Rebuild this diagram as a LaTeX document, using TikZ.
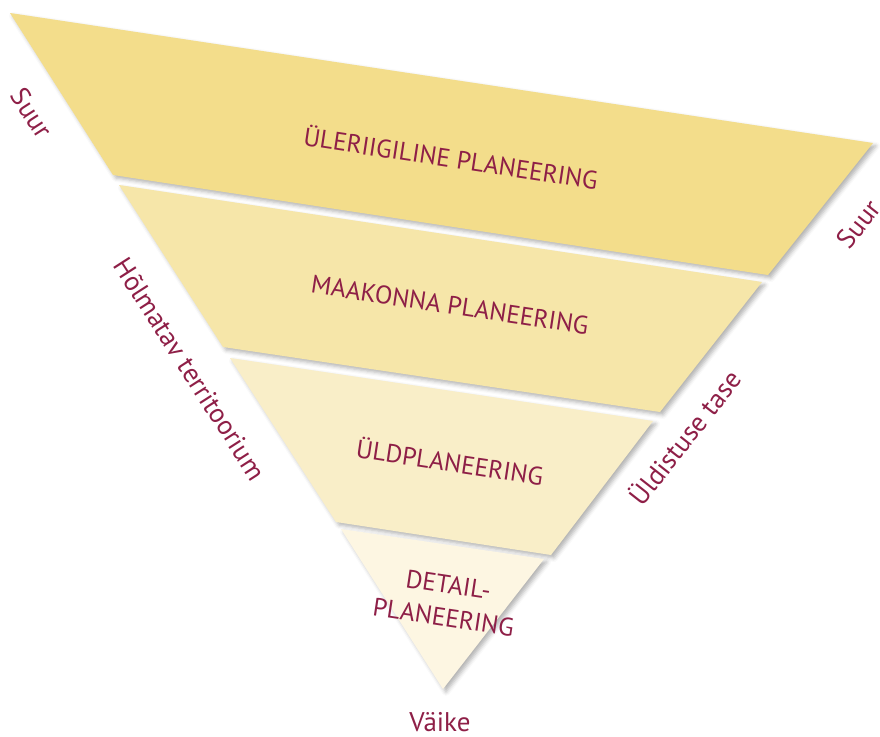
\documentclass[tikz,border=0pt]{standalone}
\usepackage{fontspec}
\setmainfont{PT Sans}
\usetikzlibrary{shadows.blur}
\definecolor{bandA}{HTML}{F3DD8B}
\definecolor{bandB}{HTML}{F6E6A9}
\definecolor{bandC}{HTML}{F9EEC8}
\definecolor{bandD}{HTML}{FDF6E2}
\definecolor{txt}{HTML}{8E1F47}
\tikzset{
  band/.style={blur shadow={shadow xshift=3pt,shadow yshift=-3pt,shadow blur radius=4pt,shadow opacity=30}},
  bandlabel/.style={text=txt,font=\fontsize{25.5}{33}\selectfont,rotate=-8.6,align=center,inner sep=0pt},
  sidelabel/.style={text=txt,font=\fontsize{27}{32}\selectfont,inner sep=0pt},
}
\begin{document}
\begin{tikzpicture}[x=1pt,y=-1pt]
\useasboundingbox (0,0) rectangle (880,736);
% band 1
\coordinate (a1) at (10,13);  \coordinate (b1) at (873,143);
\coordinate (c1) at (768,275); \coordinate (d1) at (113,175);
% band 2
\coordinate (a2) at (119,185); \coordinate (b2) at (762,282);
\coordinate (c2) at (660,412); \coordinate (d2) at (223,347);
% band 3
\coordinate (a3) at (230,358); \coordinate (b3) at (653,421);
\coordinate (c3) at (551,555); \coordinate (d3) at (336,522);
% band 4
\coordinate (a4) at (341,529); \coordinate (b4) at (544,559);
\coordinate (c4) at (443,689);

\path[band,fill=bandA] (a1) -- (b1) -- (c1) -- (d1) -- cycle;
\path[band,fill=bandB] (a2) -- (b2) -- (c2) -- (d2) -- cycle;
\path[band,fill=bandC] (a3) -- (b3) -- (c3) -- (d3) -- cycle;
\path[band,fill=bandD] (a4) -- (b4) -- (c4) -- cycle;

\node[bandlabel] (l1) at (451,157) {ÜLERIIGILINE PLANEERING};
\node[bandlabel] (l2) at (450,305) {MAAKONNA PLANEERING};
\node[bandlabel] (l3) at (450,461) {ÜLDPLANEERING};
\node[bandlabel] (l4) at (446,601) {DETAIL-\\PLANEERING};

\node[sidelabel,rotate=-57.3] (s1) at (32,113) {Suur};
\node[sidelabel,rotate=-57.3] (s2) at (190,369) {Hõlmatav territoorium};
\node[sidelabel,rotate=51.8] (s3) at (858,224) {Suur};
\node[sidelabel,rotate=51.8] (s4) at (684,437) {Üldistuse tase};
\node[sidelabel] (s5) at (440,722) {Väike};
\end{tikzpicture}
\end{document}
